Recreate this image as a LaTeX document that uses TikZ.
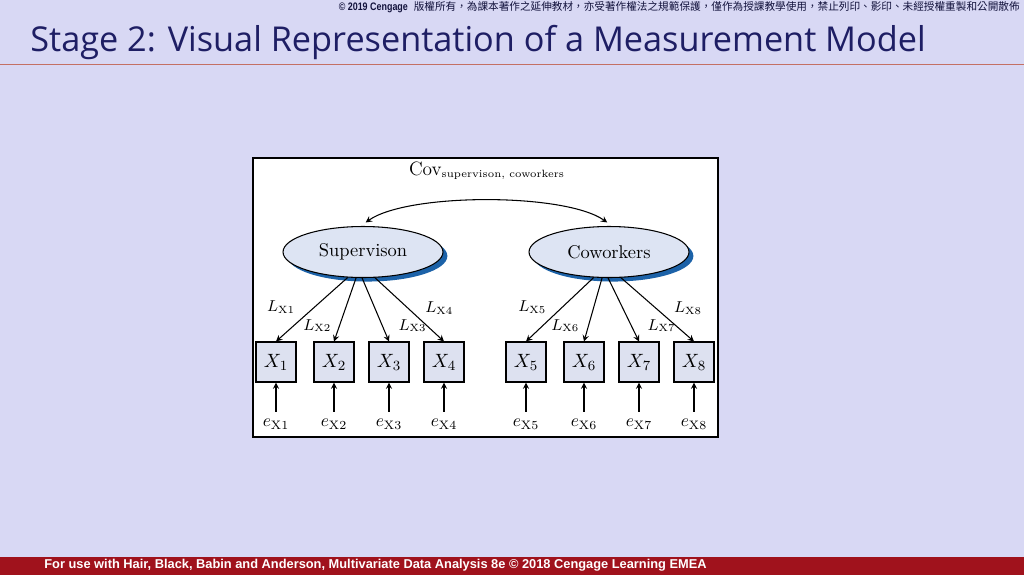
\documentclass[tikz,border=0pt]{standalone}
\usepackage{fontspec}
\usepackage{graphicx}
\newfontfamily\titlefont{Open Sans}
\newfontfamily\notefont{Liberation Sans}
\newfontfamily\cjkfont{Noto Sans CJK TC}
\usetikzlibrary{positioning,shadows,shapes.geometric,arrows}

\definecolor{slidebg}{RGB}{216,216,244}
\definecolor{titleblue}{RGB}{30,30,100}
\definecolor{rulered}{RGB}{196,112,100}
\definecolor{footred}{RGB}{160,18,28}
\definecolor{factorfill}{RGB}{221,228,243}
\definecolor{itemfill}{RGB}{221,225,240}
\definecolor{shadowblue}{RGB}{28,98,168}

\begin{document}
\begin{tikzpicture}[
    x=0.02cm, y=-0.02cm,
    node distance=0.58cm,
    factor/.style={ellipse, draw=black, fill=factorfill, line width=0.6pt, minimum width=3.2cm, minimum height=1.02cm, inner sep=0pt, font=\fontsize{10.5}{12}\selectfont, drop shadow={fill=shadowblue, opacity=1, shadow xshift=2.5pt, shadow yshift=-2.3pt}},
    item/.style={rectangle, draw=black, fill=itemfill, line width=0.6pt, minimum size=0.8cm, inner sep=0pt, font=\fontsize{11}{13}\selectfont},
    error/.style={inner sep=4pt, font=\fontsize{10}{12}\selectfont},
    loading/.style={inner sep=1pt, font=\fontsize{9}{11}\selectfont},
    load/.style={->, >=stealth, line width=0.6pt},
    arrow/.style={->, >=stealth, line width=0.6pt},
    cov/.style={<->, >=stealth, line width=0.6pt}
]
    % slide
    \fill[slidebg] (0,0) rectangle (1024,575);
    \useasboundingbox (0,0) rectangle (1024,575);
    \fill[footred] (0,557) rectangle (1024,575);
    \draw[rulered, line width=0.7pt] (0,64.5) -- (1024,64.5);
    \node[anchor=base west, inner sep=0pt, text=titleblue, font=\titlefont\fontsize{19.5}{24}\selectfont] (title) at (30,51) {Stage 2: Visual Representation of a Measurement Model};
    \node[anchor=east, inner sep=0pt, text=titleblue!60!black] (notice) at (1020,7) {{\notefont\bfseries\fontsize{6.2}{7}\selectfont\scalebox{0.82}[1]{© 2019 Cengage}} {\cjkfont\fontsize{6.05}{7}\selectfont 版權所有，為課本著作之延伸教材，亦受著作權法之規範保護，僅作為授課教學使用，禁止列印、影印、未經授權重製和公開散佈}};
    \node[anchor=west, inner sep=0pt, text=white, font=\notefont\bfseries\fontsize{7.3}{9}\selectfont] (footer) at (44,565) {For use with Hair, Black, Babin and Anderson, Multivariate Data Analysis 8e © 2018 Cengage Learning EMEA};

    % model frame
    \draw[fill=white, line width=1.1pt] (253,158) rectangle (718,437);

    \node[anchor=base] (covlabel) at (487,175) {\fontsize{11}{12}\selectfont Cov\textsubscript{\fontsize{6}{7}\selectfont supervison, coworkers}};

    \node[factor] (sup) at (363,252) {Supervison};
    \node[factor] (cow) at (609,252) {Coworkers};

    \draw[cov] ([xshift=1.5pt, yshift=2pt]sup.north) to[out=35, in=145, looseness=0.55] ([xshift=-1pt, yshift=2pt]cow.north);

    \node[item] (x1) at (276,362) {$X_1$};
    \node[item] (x2) at (334,362) {$X_2$};
    \node[item] (x3) at (389,362) {$X_3$};
    \node[item] (x4) at (444,362) {$X_4$};
    \node[item] (x5) at (526,362) {$X_5$};
    \node[item] (x6) at (584,362) {$X_6$};
    \node[item] (x7) at (639,362) {$X_7$};
    \node[item] (x8) at (694,362) {$X_8$};

    \node[error, below=of x1] (e1) {$e_{\mathrm{X1}}$};
    \node[error, below=of x2] (e2) {$e_{\mathrm{X2}}$};
    \node[error, below=of x3] (e3) {$e_{\mathrm{X3}}$};
    \node[error, below=of x4] (e4) {$e_{\mathrm{X4}}$};
    \node[error, below=of x5] (e5) {$e_{\mathrm{X5}}$};
    \node[error, below=of x6] (e6) {$e_{\mathrm{X6}}$};
    \node[error, below=of x7] (e7) {$e_{\mathrm{X7}}$};
    \node[error, below=of x8] (e8) {$e_{\mathrm{X8}}$};

    \draw[load] (sup.-121) -- node[loading, pos=0.46, left=10pt] {$L_{\mathrm{X1}}$} (x1.north);
    \draw[load] (sup.-105) -- node[loading, pos=0.75, left=3.5pt] {$L_{\mathrm{X2}}$} (x2.north);
    \draw[load] (sup.-92) -- node[loading, pos=0.75, right=8pt] {$L_{\mathrm{X3}}$} (x3.north);
    \draw[load] (sup.-65) -- node[loading, pos=0.48, right=8.5pt] {$L_{\mathrm{X4}}$} (x4.north);
    \draw[load] (cow.-121) -- node[loading, pos=0.46, left=8pt] {$L_{\mathrm{X5}}$} (x5.north);
    \draw[load] (cow.-105) -- node[loading, pos=0.75, left=4pt] {$L_{\mathrm{X6}}$} (x6.north);
    \draw[load] (cow.-92) -- node[loading, pos=0.75, right=8pt] {$L_{\mathrm{X7}}$} (x7.north);
    \draw[load] (cow.-65) -- node[loading, pos=0.48, right=9pt] {$L_{\mathrm{X8}}$} (x8.north);

    \draw[arrow] (e1) -- (x1);
    \draw[arrow] (e2) -- (x2);
    \draw[arrow] (e3) -- (x3);
    \draw[arrow] (e4) -- (x4);
    \draw[arrow] (e5) -- (x5);
    \draw[arrow] (e6) -- (x6);
    \draw[arrow] (e7) -- (x7);
    \draw[arrow] (e8) -- (x8);
\end{tikzpicture}
\end{document}
